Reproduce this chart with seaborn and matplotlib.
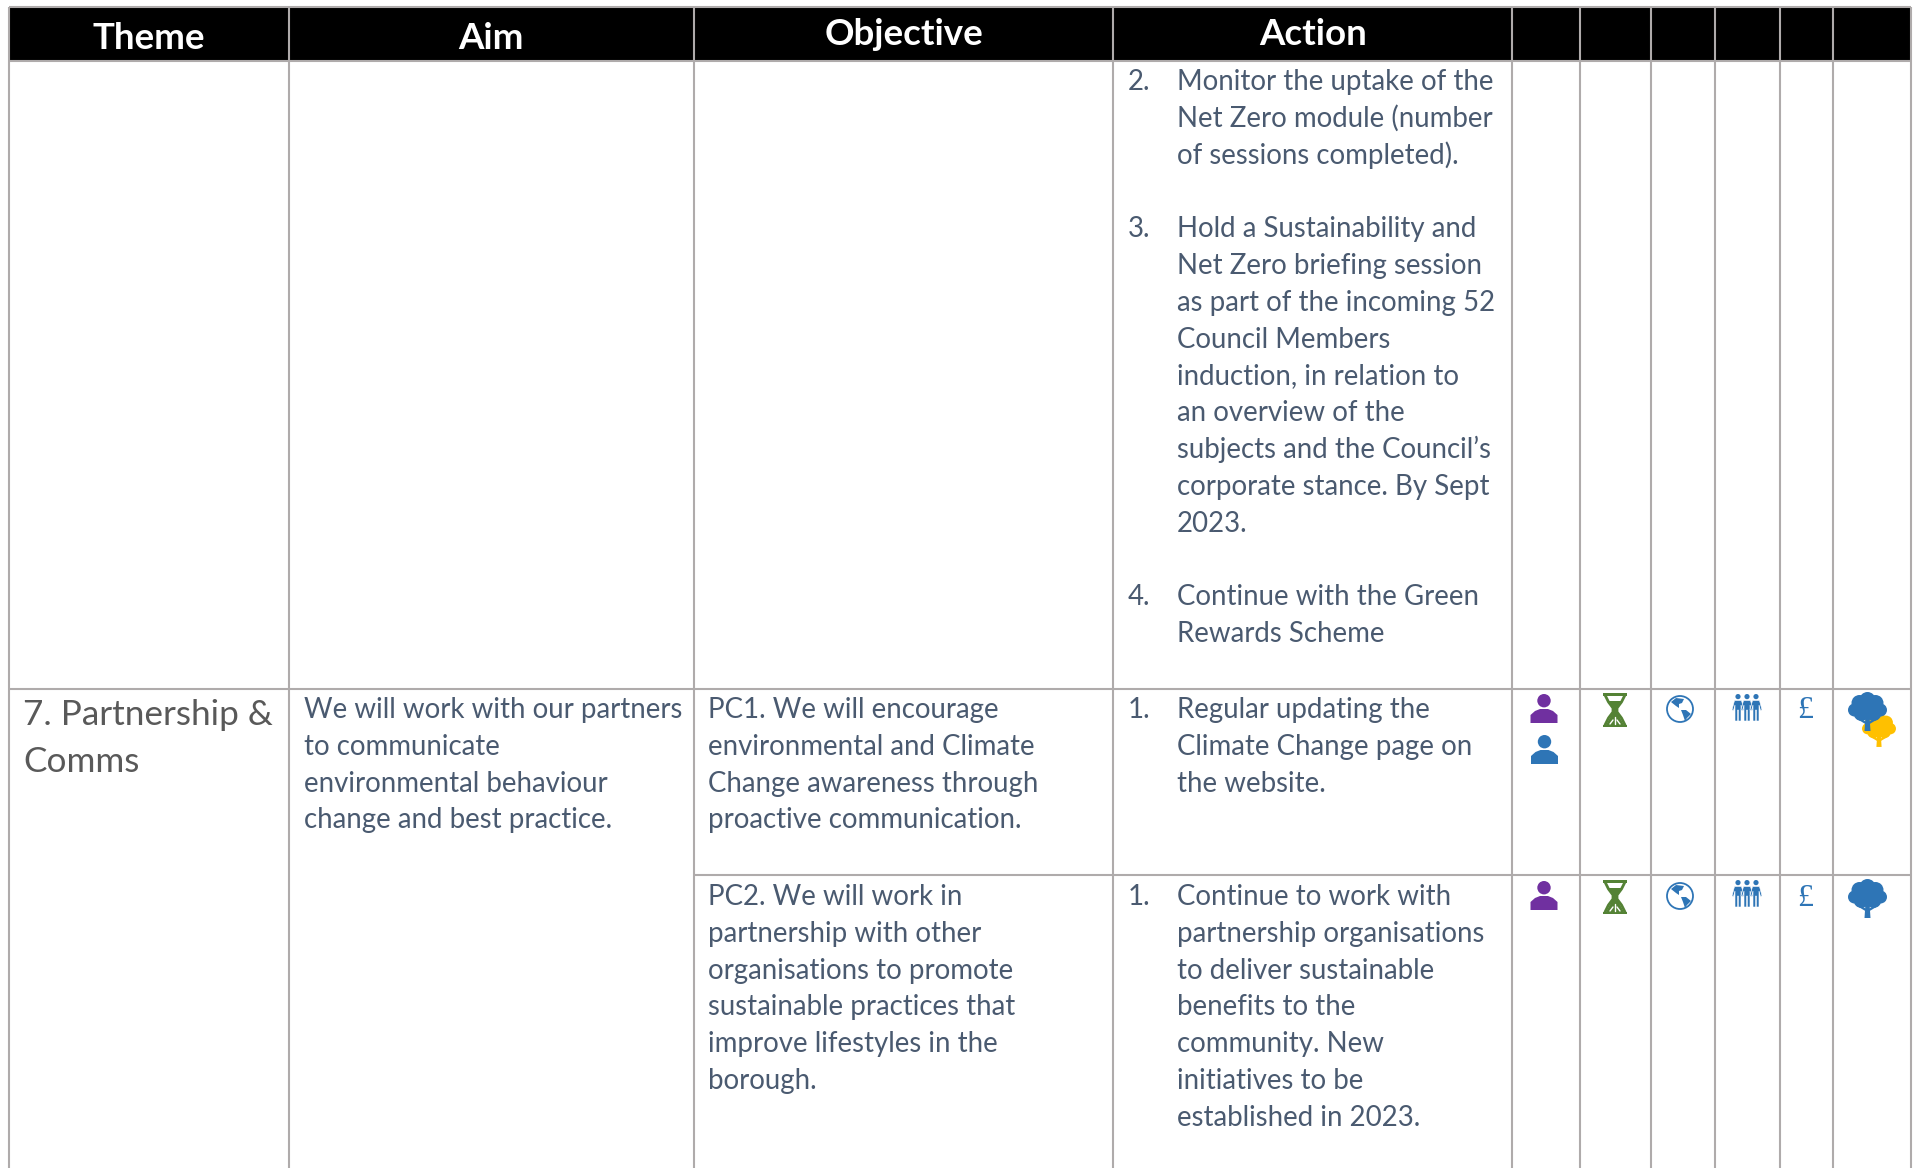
import numpy as np
import matplotlib
matplotlib.use('Agg')
import matplotlib.pyplot as plt
from matplotlib.patches import Circle, Polygon, Rectangle
import seaborn as sns

sns.set_theme(style='white')
plt.rcParams['font.family'] = ['Lato', 'DejaVu Sans']

headers = ['Theme', 'Aim', 'Objective', 'Action']
header_centers = [149, 491, 904, 1313]
header_baselines = [49, 49, 45, 45]

theme_lines = ['7. Partnership &', 'Comms']
aim_lines = ['We will work with our partners', 'to communicate',
             'environmental behaviour', 'change and best practice.']
obj1_lines = ['PC1. We will encourage', 'environmental and Climate',
              'Change awareness through', 'proactive communication.']
obj2_lines = ['PC2. We will work in', 'partnership with other',
              'organisations to promote', 'sustainable practices that',
              'improve lifestyles in the', 'borough.']
action_top_nums = ['2.', '', '', '', '3.', '', '', '', '', '', '', '', '', '', '4.', '']
action_top = ['Monitor the uptake of the', 'Net Zero module (number',
              'of sessions completed).', '', 'Hold a Sustainability and',
              'Net Zero briefing session', 'as part of the incoming 52',
              'Council Members', 'induction, in relation to',
              'an overview of the', 'subjects and the Council\u2019s',
              'corporate stance. By Sept', '2023.', '',
              'Continue with the Green', 'Rewards Scheme']
action1 = ['Regular updating the', 'Climate Change page on', 'the website.']
action2 = ['Continue to work with', 'partnership organisations',
           'to deliver sustainable', 'benefits to the',
           'community. New', 'initiatives to be', 'established in 2023.']

col_x = [9, 289, 694, 1113, 1512, 1580, 1651, 1715, 1780, 1833, 1911]
row_y = [7, 61, 689, 875, 1168]

GRID = '#AFABAB'
TEXT = '#4A5A70'
THEME = '#595959'
PURPLE = '#7030A0'
BLUE = '#2E75B6'
GREEN = '#548235'
YELLOW = '#FFC000'
FS = 19.9
STEP = 36.8

fig = plt.figure(figsize=(19.15, 11.68), dpi=100)
ax = fig.add_axes([0, 0, 1, 1])
ax.set_xlim(0, 1915)
ax.set_ylim(1168, 0)
ax.axis('off')
sns.despine(ax=ax, left=True, bottom=True)


def block(lines, x, y, color=TEXT, size=FS, step=STEP):
    for i, s in enumerate(lines):
        ax.text(x, y + i * step, s, color=color, fontsize=size, va='baseline', ha='left')


def person(cx, top, color):
    ax.add_patch(Circle((cx, top + 6.7), 6.7, fc=color, ec='none'))
    ax.add_patch(Polygon([(cx - 13.5, top + 29), (cx - 13.5, top + 21), (cx - 9, top + 17), (cx - 4, top + 15),
                          (cx + 4, top + 15), (cx + 9, top + 17), (cx + 13.5, top + 21), (cx + 13.5, top + 29)],
                         fc=color, ec='none'))


def hourglass(cx, top):
    h = 34
    w = 12
    ax.add_patch(Rectangle((cx - w, top), 2 * w, 2.5, fc=GREEN, ec='none'))
    ax.add_patch(Rectangle((cx - w, top + h - 2.5), 2 * w, 2.5, fc=GREEN, ec='none'))
    ax.add_patch(Polygon([(cx - 7, top + 8), (cx + 7, top + 8), (cx + 2, top + 15), (cx + 2, top + 19),
                          (cx + 9, top + h - 2), (cx - 9, top + h - 2), (cx - 2, top + 19), (cx - 2, top + 15)],
                         fc=GREEN, ec='none'))
    ax.plot([cx - 10, cx - 6.5, cx - 2, cx - 2, cx - 6.5, cx - 10],
            [top + 2, top + 9, top + 15, top + 19, top + 25, top + h - 2], color=GREEN, lw=2)
    ax.plot([cx + 10, cx + 6.5, cx + 2, cx + 2, cx + 6.5, cx + 10],
            [top + 2, top + 9, top + 15, top + 19, top + 25, top + h - 2], color=GREEN, lw=2)
    ax.plot([cx, cx], [top + 24, top + h - 3], color='white', lw=1)
    ax.plot([cx - 5, cx - 2], [top + h - 3, top + 27], color='white', lw=1)
    ax.plot([cx + 5, cx + 2], [top + h - 3, top + 27], color='white', lw=1)


def globe(cx, cy):
    ax.add_patch(Circle((cx, cy), 13, fc='white', ec=BLUE, lw=1.3))
    ax.add_patch(Polygon([(cx - 9, cy - 7), (cx - 4, cy - 11), (cx + 4, cy - 10), (cx + 2, cy - 6), (cx - 1, cy - 5),
                          (cx - 1, cy - 1), (cx - 4, cy - 3)], fc=BLUE, ec='none'))
    ax.add_patch(Polygon([(cx + 1, cy + 1), (cx + 6, cy + 1), (cx + 11, cy + 5), (cx + 7, cy + 9), (cx + 5, cy + 12),
                          (cx + 3, cy + 6)], fc=BLUE, ec='none'))


def people(x0, top):
    for cx in [x0 + 6, x0 + 15, x0 + 24]:
        ax.add_patch(Circle((cx, top + 2.6), 2.6, fc=BLUE, ec='none'))
        ax.add_patch(Polygon([(cx - 3.5, top + 6.5), (cx + 3.5, top + 6.5), (cx + 6, top + 16), (cx + 4.5, top + 16.5),
                              (cx + 3, top + 11), (cx + 3, top + 27), (cx + 0.4, top + 27), (cx + 0.4, top + 16),
                              (cx - 0.4, top + 16), (cx - 0.4, top + 27), (cx - 3, top + 27), (cx - 3, top + 11),
                              (cx - 4.5, top + 16.5), (cx - 6, top + 16)], fc=BLUE, ec='white', lw=0.4))


def tree(cx, top, color, scale=1.0):
    for dx, dy, r in [(0, 8, 8), (-8, 11, 8), (8, 11, 8), (-13, 18, 6.5), (13, 18, 6.5), (-6, 21, 8), (6, 21, 8),
                      (0, 16, 9)]:
        ax.add_patch(Circle((cx + dx * scale, top + dy * scale), r * scale, fc=color, ec='none'))
    ax.add_patch(Polygon([(cx - 3 * scale, top + 39 * scale), (cx + 3 * scale, top + 39 * scale),
                          (cx + 2 * scale, top + 24 * scale), (cx - 2 * scale, top + 24 * scale)], fc=color, ec='none'))
    ax.plot([cx - 10 * scale, cx, cx + 10 * scale], [top + 26 * scale, top + 32 * scale, top + 26 * scale],
            color=color, lw=1.6)


# header band
ax.add_patch(Rectangle((col_x[0], row_y[0]), col_x[-1] - col_x[0], row_y[1] - row_y[0], fc='black', ec='none'))
for s, x, y in zip(headers, header_centers, header_baselines):
    ax.text(x, y, s, color='white', fontsize=26.4, fontweight='bold', ha='center', va='baseline')

# grid
ax.vlines(col_x, row_y[0], row_y[-1], color=GRID, lw=1.5)
ax.hlines(row_y[:3], col_x[0], col_x[-1], color=GRID, lw=1.5)
ax.hlines(row_y[3], col_x[2], col_x[-1], color=GRID, lw=1.5)

# text
block(action_top, 1177, 90)
block(action_top_nums, 1128, 90)
block(theme_lines, 23, 725, color=THEME, size=25.3, step=47)
block(aim_lines, 304, 718)
block(obj1_lines, 708, 718)
block(obj2_lines, 708, 905)
block(['1.'], 1128, 718)
block(action1, 1177, 718)
block(['1.'], 1128, 905)
block(action2, 1177, 905)

# icons
person(1544, 694, PURPLE)
person(1544.5, 735, BLUE)
person(1544, 881, PURPLE)
hourglass(1615, 693)
hourglass(1615, 880)
globe(1680, 709)
globe(1680, 896)
people(1732, 694)
people(1732, 880)
ax.text(1805, 710, '\u00a3', color=BLUE, fontsize=23, ha='center', va='center', family='Liberation Serif')
ax.text(1805, 899, '\u00a3', color=BLUE, fontsize=23, ha='center', va='center', family='Liberation Serif')
tree(1879, 713, YELLOW, 0.87)
tree(1867.5, 692, BLUE)
tree(1867.5, 879, BLUE)

fig.savefig('out.png', dpi=100)
